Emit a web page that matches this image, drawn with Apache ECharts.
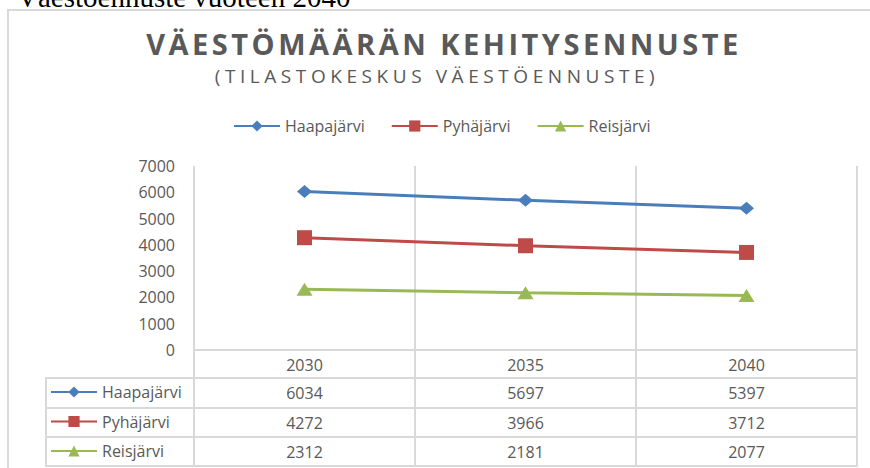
<!DOCTYPE html>
<html><head><meta charset="utf-8">
<script src="https://cdn.jsdelivr.net/npm/echarts@6/dist/echarts.min.js"></script>
<style>html,body{margin:0;padding:0;background:#fff;overflow:hidden}#c{width:870px;height:468px}</style>
</head><body><div id="c"></div>
<script>
// ---- data ----
const pageHeading = 'Väestöennuste vuoteen 2040';
const chartTitle = 'VÄESTÖMÄÄRÄN KEHITYSENNUSTE';
const chartSubtitle = '(TILASTOKESKUS VÄESTÖENNUSTE)';
const categories = ['2030', '2035', '2040'];
const seriesNames = ['Haapajärvi', 'Pyhäjärvi', 'Reisjärvi'];
const haapajarvi = [6034, 5697, 5397];
const pyhajarvi = [4272, 3966, 3712];
const reisjarvi = [2312, 2181, 2077];
const yMin = 0, yMax = 7000, yInterval = 1000;

// ---- styles ----
const GRAY = '#595959';
const LINE = '#d9d9d9';
const FONT = 'Open Sans';
const colors = ['#4A7EBB', '#BE4B48', '#98B954'];
const symbols = ['diamond', 'rect', 'triangle'];
const symbolSizes = [[15, 13], [15, 15], [16, 13]];
const seriesValues = [haapajarvi, pyhajarvi, reisjarvi];
const rowOffsets = [28, 58, 87];
const TITLE_SIZE = 29, SUB_SIZE = 19;

const chart = echarts.init(document.getElementById('c'), null, { renderer: 'svg' });

const lbl = { fontFamily: FONT, fontSize: 16, color: GRAY };

const xAxes = [{
  type: 'category', data: categories, boundaryGap: true, gridIndex: 0,
  axisLine: { show: true, lineStyle: { color: LINE, width: 2 } },
  axisTick: { show: true, length: 116, lineStyle: { color: LINE, width: 2 } },
  axisLabel: Object.assign({ margin: 7 }, lbl),
  splitLine: { show: true, lineStyle: { color: LINE, width: 2 } }
}];
seriesValues.forEach((vals, i) => {
  xAxes.push({
    type: 'category', data: vals.map(String), position: 'bottom', offset: rowOffsets[i], gridIndex: 0,
    axisLine: { show: true, lineStyle: { color: LINE, width: 2 } },
    axisTick: { show: false },
    axisLabel: Object.assign({ margin: 7 }, lbl),
    splitLine: { show: false }
  });
});
xAxes.push({
  type: 'category', data: categories, position: 'bottom', offset: 116, gridIndex: 0,
  axisLine: { show: true, lineStyle: { color: LINE, width: 2 } },
  axisTick: { show: false }, axisLabel: { show: false }, splitLine: { show: false }
});

const option = {
  animation: false,
  backgroundColor: '#fff',
  title: [
    { text: chartTitle, left: 444, top: 43 - TITLE_SIZE / 2, padding: 0, textAlign: 'center',
      textStyle: { fontFamily: FONT, fontSize: TITLE_SIZE, fontWeight: 'bold', color: GRAY } },
    { text: chartSubtitle, left: 437, top: 76 - SUB_SIZE / 2, padding: 0, textAlign: 'center',
      textStyle: { fontFamily: FONT, fontSize: SUB_SIZE, fontWeight: 'normal', color: GRAY } }
  ],
  legend: [
    { data: seriesNames, left: 233, top: 118, itemWidth: 46, itemHeight: 14, itemGap: 26, padding: 0,
      textStyle: { fontFamily: FONT, fontSize: 16, color: GRAY } },
    { data: seriesNames, orient: 'vertical', left: 50, top: 384, itemWidth: 46, itemHeight: 14, itemGap: 13.5, padding: 0,
      textStyle: { fontFamily: FONT, fontSize: 16, color: GRAY } }
  ],
  grid: { left: 194, right: 13, top: 166, bottom: 118, containLabel: false },
  xAxis: xAxes,
  yAxis: {
    type: 'value', min: yMin, max: yMax, interval: yInterval,
    axisLine: { show: false }, axisTick: { show: false },
    axisLabel: Object.assign({ margin: 19, formatter: v => String(v) }, lbl),
    splitLine: { show: false }
  },
  series: seriesNames.map((name, i) => ({
    name, type: 'line', data: seriesValues[i], xAxisIndex: 0, yAxisIndex: 0,
    symbol: symbols[i], symbolSize: symbolSizes[i], showAllSymbol: true,
    lineStyle: { width: 3, color: colors[i] },
    itemStyle: { color: colors[i] }
  })),
  graphic: [
    { type: 'rect', shape: { x: 8, y: 10, width: 900, height: 500 }, silent: true, z: -10,
      style: { fill: 'none', stroke: LINE, lineWidth: 2 } },
    { type: 'text', x: 17, y: 11, silent: true,
      style: { text: pageHeading, font: '29px "Liberation Serif"', fill: '#000', textVerticalAlign: 'bottom' } },
    { type: 'rect', shape: { x: 46, y: 378, width: 148, height: 88 }, silent: true,
      style: { fill: 'none', stroke: LINE, lineWidth: 2 } },
    { type: 'line', shape: { x1: 46, y1: 408, x2: 194, y2: 408 }, silent: true, style: { stroke: LINE, lineWidth: 2 } },
    { type: 'line', shape: { x1: 46, y1: 437, x2: 194, y2: 437 }, silent: true, style: { stroke: LINE, lineWidth: 2 } }
  ]
};
chart.setOption(option);

function spacing(text, font, target) {
  const ctx = document.createElement('canvas').getContext('2d');
  ctx.font = font;
  const w = ctx.measureText(text).width;
  return Math.max(0, (target - w) / (text.length - 1));
}
function applySpacing() {
  const ts = spacing(chartTitle, 'bold ' + TITLE_SIZE + 'px "Open Sans"', 592);
  const ss = spacing(chartSubtitle, SUB_SIZE + 'px "Open Sans"', 440);
  document.querySelectorAll('#c text').forEach(t => {
    if (t.textContent === chartTitle) t.style.letterSpacing = ts + 'px';
    else if (t.textContent === chartSubtitle) t.style.letterSpacing = ss + 'px';
  });
}
chart.on('finished', applySpacing);
applySpacing();
setTimeout(applySpacing, 0);
requestAnimationFrame(applySpacing);
</script></body></html>
